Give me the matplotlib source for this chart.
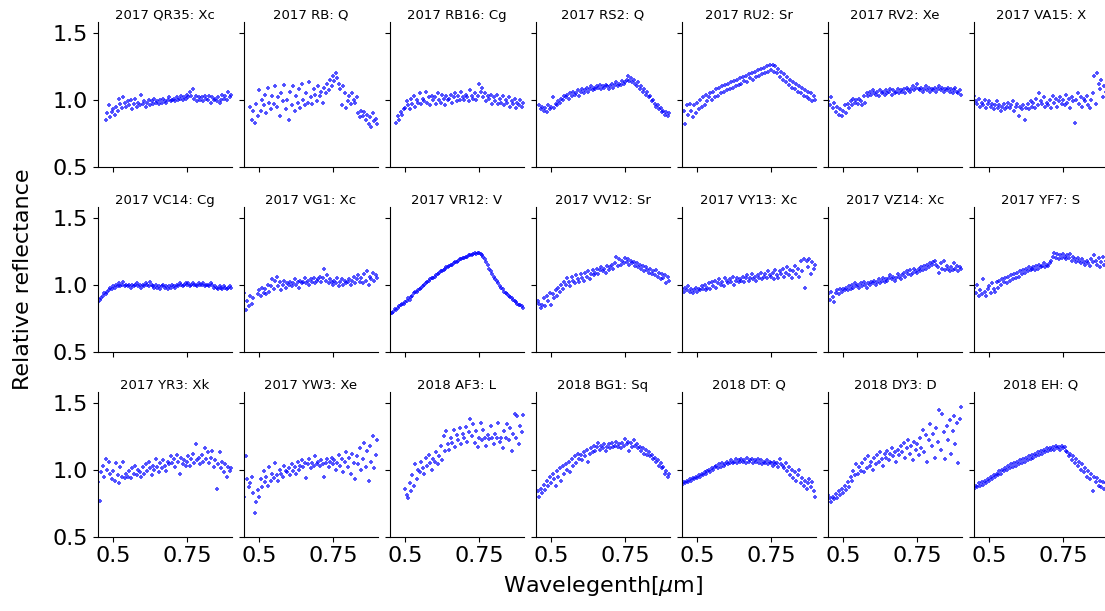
import numpy as np
import matplotlib
matplotlib.use('Agg')
import matplotlib.pyplot as plt

# wavelength grid [um]
wl = [0.450, 0.455, 0.460, 0.465, 0.470, 0.475, 0.480, 0.485, 0.490, 0.495,
      0.500, 0.505, 0.510, 0.515, 0.520, 0.525, 0.530, 0.535, 0.540, 0.545,
      0.550, 0.555, 0.560, 0.565, 0.570, 0.575, 0.580, 0.585, 0.590, 0.595,
      0.600, 0.605, 0.610, 0.615, 0.620, 0.625, 0.630, 0.635, 0.640, 0.645,
      0.650, 0.655, 0.660, 0.665, 0.670, 0.675, 0.680, 0.685, 0.690, 0.695,
      0.700, 0.705, 0.710, 0.715, 0.720, 0.725, 0.730, 0.735, 0.740, 0.745,
      0.750, 0.755, 0.760, 0.765, 0.770, 0.775, 0.780, 0.785, 0.790, 0.795,
      0.800, 0.805, 0.810, 0.815, 0.820, 0.825, 0.830, 0.835, 0.840, 0.845,
      0.850, 0.855, 0.860, 0.865, 0.870, 0.875, 0.880, 0.885, 0.890, 0.895,
      0.900]

nombres = ['2017 QR35: Xc', '2017 RB: Q', '2017 RB16: Cg', '2017 RS2: Q',
           '2017 RU2: Sr', '2017 RV2: Xe', '2017 VA15: X',
           '2017 VC14: Cg', '2017 VG1: Xc', '2017 VR12: V', '2017 VV12: Sr',
           '2017 VY13: Xc', '2017 VZ14: Xc', '2017 YF7: S',
           '2017 YR3: Xk', '2017 YW3: Xe', '2018 AF3: L', '2018 BG1: Sq',
           '2018 DT: Q', '2018 DY3: D', '2018 EH: Q']

N = None

qr35 = [N, N, N, N, N, 0.85, 0.90, 0.96, 0.87, 0.91,
        0.93, 0.89, 0.95, 0.92, 1.01, 0.97, 0.94, 1.02, 0.98, 0.95,
        0.99, 0.96, 1.00, 0.93, 0.97, 1.01, 0.95, 0.98, 0.96, 1.04,
        0.97, 0.99, 0.95, 0.98, 1.00, 0.96, 0.99, 0.97, 1.01, 0.98,
        0.99, 0.97, 1.00, 0.98, 1.01, 0.99, 0.98, 1.00, 1.02, 0.99,
        1.00, 1.01, 0.99, 1.02, 1.00, 1.01, 1.03, 1.00, 1.02, 1.01,
        1.04, 1.02, 1.06, 1.03, 1.08, 1.01, 1.03, 0.99, 1.02, 1.00,
        1.02, 0.99, 1.03, 1.01, 1.00, 1.03, 0.98, 1.02, 1.00, 1.01,
        0.99, 1.02, 0.98, 1.00, 1.04, 1.01, 1.03, 1.00, 1.06, 1.02,
        1.04]

rb = [N, N, N, N, 0.95, 0.85, 0.92, 0.83, 0.97, 0.88,
      1.07, 0.92, 1.00, 0.96, 1.04, 0.90, 1.09, 0.98, 0.93, 1.03,
      0.97, 1.10, 0.95, 1.02, 0.88, 1.05, 0.99, 1.11, 0.93, 1.00,
      0.85, 1.06, 0.96, 1.10, 0.92, 1.03, 0.98, 1.08, 0.94, 1.12,
      1.00, 0.96, 1.05, 0.98, 1.13, 1.02, 0.97, 1.08, 1.04, 0.99,
      1.10, 1.03, 1.06, 0.98, 1.09, 1.05, 1.12, 1.07, 1.15, 1.10,
      1.18, 1.14, 1.20, 1.16, 1.12, 1.08, 0.96, 1.10, 1.05, 0.94,
      0.99, 1.03, 0.97, 1.05, 1.00, 0.98, 1.02, 0.90, 0.87, 0.92,
      0.88, 0.91, 0.85, 0.89, 0.82, 0.87, 0.80, 0.90, 0.84, 0.86,
      0.82]

rb16 = [N, N, N, N, 0.83, 0.88, 0.85, 0.91, 0.89, 0.93,
        0.94, 0.99, 0.96, 0.93, 1.01, 0.97, 1.03, 0.95, 1.00, 0.98,
        1.05, 0.97, 1.01, 0.99, 1.06, 0.98, 1.02, 0.96, 1.03, 1.00,
        1.02, 0.97, 1.05, 1.00, 0.98, 1.04, 1.01, 0.96, 1.03, 1.00,
        1.01, 1.04, 0.98, 1.02, 1.05, 0.99, 1.03, 1.00, 1.06, 1.02,
        1.00, 1.04, 1.02, 0.99, 1.07, 1.03, 1.01, 1.05, 1.00, 1.03,
        1.12, 1.06, 1.09, 1.02, 1.05, 0.99, 1.03, 1.01, 1.04, 0.97,
        1.02, 0.99, 1.04, 0.97, 1.01, 0.98, 1.03, 0.96, 1.00, 0.98,
        1.02, 0.95, 0.99, 0.97, 1.01, 0.94, 0.98, 0.96, 1.00, 0.95,
        0.98]

rs2 = [N, N, 0.96, 0.93, 0.95, 0.92, 0.94, 0.91, 0.96, 0.93,
       0.95, 1.02, 0.94, 0.97, 0.96, 0.99, 0.98, 1.01, 1.00, 1.03,
       1.02, 1.04, 1.01, 1.05, 1.03, 1.06, 1.04, 1.05, 1.07, 1.03,
       1.06, 1.08, 1.05, 1.07, 1.09, 1.06, 1.08, 1.10, 1.07, 1.09,
       1.08, 1.10, 1.09, 1.11, 1.08, 1.10, 1.09, 1.11, 1.10, 1.08,
       1.10, 1.12, 1.09, 1.11, 1.13, 1.10, 1.12, 1.11, 1.14, 1.12,
       1.13, 1.15, 1.18, 1.14, 1.16, 1.13, 1.15, 1.12, 1.10, 1.13,
       1.08, 1.10, 1.06, 1.08, 1.04, 1.06, 1.02, 1.03, 0.99, 1.00,
       0.97, 0.95, 0.96, 0.93, 0.94, 0.91, 0.92, 0.89, 0.91, 0.88,
       0.90]

ru2 = [N, 0.92, 0.82, 0.96, 0.89, 0.97, 0.92, 0.87, 0.96, 0.90,
       0.98, 0.93, 1.00, 0.95, 1.02, 0.96, 1.04, 0.99, 1.02, 1.05,
       1.00, 1.06, 1.02, 1.08, 1.03, 1.09, 1.05, 1.10, 1.06, 1.11,
       1.07, 1.12, 1.08, 1.13, 1.09, 1.14, 1.10, 1.15, 1.11, 1.16,
       1.12, 1.17, 1.14, 1.18, 1.13, 1.19, 1.16, 1.20, 1.15, 1.21,
       1.17, 1.22, 1.18, 1.23, 1.19, 1.24, 1.20, 1.25, 1.21, 1.26,
       1.22, 1.26, 1.21, 1.25, 1.20, 1.23, 1.17, 1.21, 1.15, 1.19,
       1.13, 1.17, 1.11, 1.15, 1.09, 1.13, 1.08, 1.12, 1.06, 1.10,
       1.05, 1.09, 1.03, 1.07, 1.02, 1.06, 1.01, 1.05, 0.99, 1.03,
       1.00]

rv2 = [0.99, 0.96, 1.02, 0.94, 0.98, 0.91, 0.95, 0.89, 0.93, 0.88,
       0.92, 0.96, 0.90, 0.97, 0.94, 0.99, 0.96, 1.01, 0.98, 1.00,
       0.97, 1.01, 0.99, 0.96, 1.03, 0.98, 1.05, 1.03, 1.06, 1.04,
       1.07, 1.05, 1.04, 1.06, 1.03, 1.07, 1.05, 1.06, 1.04, 1.07,
       1.05, 1.06, 1.08, 1.04, 1.07, 1.05, 1.06, 1.08, 1.05, 1.07,
       1.06, 1.08, 1.05, 1.09, 1.07, 1.06, 1.08, 1.10, 1.07, 1.09,
       1.12, 1.08, 1.07, 1.09, 1.06, 1.08, 1.10, 1.07, 1.09, 1.06,
       1.08, 1.07, 1.09, 1.06, 1.08, 1.10, 1.07, 1.09, 1.06, 1.08,
       1.07, 1.09, 1.06, 1.08, 1.05, 1.07, 1.09, 1.06, 1.05, 1.07,
       1.04]

va15 = [1.03, 0.99, 0.97, 1.01, 0.95, 0.98, 0.96, 1.00, 0.94, 0.97,
        0.99, 0.95, 0.97, 0.93, 0.96, 0.99, 0.94, 0.96, 0.92, 0.95,
        0.97, 0.93, 0.95, 0.98, 0.94, 0.96, 0.99, 0.92, 0.95, 0.97,
        0.88, 0.95, 0.93, 0.96, 0.85, 0.94, 0.97, 0.93, 0.99, 0.95,
        0.98, 0.94, 1.01, 0.96, 1.05, 0.99, 0.97, 1.02, 0.95, 0.98,
        0.96, 1.00, 0.94, 1.03, 0.98, 1.01, 0.95, 0.99, 1.02, 0.97,
        1.00, 0.96, 1.04, 0.98, 1.01, 0.94, 1.02, 0.99, 0.83, 1.00,
        1.05, 0.97, 1.02, 0.95, 1.01, 0.99, 1.03, 0.96, 0.94, 1.00,
        1.05, 1.18, 0.97, 1.20, 1.12, 1.08, 1.15, 1.02, 1.10, 1.06,
        1.12]

vc14 = [0.87, 0.89, 0.90, 0.92, 0.94, 0.93, 0.95, 0.96, 0.98, 0.97,
        0.99, 0.98, 1.00, 0.99, 1.01, 0.99, 1.00, 1.02, 0.99, 1.00,
        0.99, 1.00, 0.98, 1.00, 0.99, 1.00, 1.01, 0.99, 1.00, 0.98,
        1.00, 0.99, 1.01, 1.00, 0.99, 1.02, 1.00, 0.99, 0.98, 1.00,
        0.98, 0.99, 0.97, 0.99, 1.00, 0.98, 0.99, 0.97, 0.99, 0.98,
        1.00, 0.99, 0.98, 1.00, 0.99, 1.01, 1.00, 0.99, 1.00, 1.01,
        1.00, 1.01, 0.99, 1.00, 1.01, 1.00, 1.00, 0.99, 1.01, 1.00,
        1.00, 1.01, 0.99, 1.00, 1.00, 0.99, 1.01, 1.00, 0.98, 0.99,
        0.98, 0.97, 0.99, 0.98, 0.97, 0.99, 0.98, 0.97, 0.98, 0.99,
        0.98]

vg1 = [0.94, 0.81, 0.88, 0.84, 0.92, 0.86, 0.90, N, N, 0.93,
       0.96, 0.92, 0.98, 0.94, 0.97, 0.93, 1.00, 0.95, 0.99, 1.04,
       0.97, 1.03, 1.06, 0.99, 1.02, 0.96, 1.00, 1.03, 0.98, 1.01,
       1.00, 1.02, 0.99, 1.01, 1.04, 1.00, 1.02, 0.98, 1.03, 1.01,
       1.02, 1.05, 1.01, 1.03, 1.00, 1.04, 1.02, 1.05, 1.01, 1.03,
       1.04, 1.06, 1.02, 1.05, 1.12, 1.03, 1.07, 1.01, 1.04, 1.02,
       1.00, 1.03, 1.01, 1.05, 0.99, 1.02, 1.04, 1.00, 1.03, 1.01,
       1.02, 1.04, 1.00, 1.03, 1.06, 1.01, 1.04, 1.07, 1.02, 1.05,
       1.01, 1.08, 1.03, 1.10, 1.00, 1.06, 1.04, 1.09, 1.03, 1.07,
       1.05]

vr12 = [0.78, 0.79, 0.80, 0.82, 0.81, 0.83, 0.84, 0.85, 0.86, 0.86,
        0.87, 0.88, 0.90, 0.89, 0.91, 0.92, 0.94, 0.95, 0.95, 0.96,
        0.97, 0.98, 0.99, 1.00, 1.01, 1.02, 1.03, 1.04, 1.05, 1.05,
        1.06, 1.07, 1.08, 1.09, 1.10, 1.10, 1.11, 1.12, 1.13, 1.13,
        1.14, 1.15, 1.15, 1.16, 1.17, 1.17, 1.18, 1.19, 1.19, 1.20,
        1.20, 1.21, 1.21, 1.22, 1.22, 1.22, 1.23, 1.24, 1.23, 1.24,
        1.24, 1.23, 1.22, 1.21, 1.19, 1.17, 1.15, 1.12, 1.10, 1.08,
        1.06, 1.04, 1.03, 1.01, 0.99, 0.98, 0.97, 0.95, 0.94, 0.93,
        0.92, 0.91, 0.90, 0.89, 0.88, 0.87, 0.86, 0.85, 0.85, 0.84,
        0.83]

vv12 = [N, 0.88, 0.86, 0.83, 0.85, 0.90, 0.84, 0.92, 0.88, 0.94,
        0.85, 0.93, 0.90, 0.96, 0.92, 0.98, 0.95, 1.00, 0.97, 1.02,
        1.00, 1.05, 1.02, 0.99, 1.06, 1.03, 1.01, 1.07, 1.04, 1.02,
        1.08, 1.05, 1.03, 1.09, 1.06, 1.10, 1.04, 1.08, 1.11, 1.07,
        1.09, 1.12, 1.08, 1.11, 1.13, 1.10, 1.12, 1.09, 1.14, 1.11,
        1.13, 1.15, 1.12, 1.16, 1.21, 1.14, 1.19, 1.15, 1.18, 1.16,
        1.20, 1.17, 1.19, 1.15, 1.18, 1.16, 1.17, 1.14, 1.16, 1.13,
        1.15, 1.12, 1.14, 1.10, 1.13, 1.11, 1.09, 1.12, 1.08, 1.10,
        1.07, 1.11, 1.06, 1.09, 1.04, 1.08, 1.05, 1.07, 1.01, 1.06,
        1.03]

vy13 = [0.97, 0.95, 0.98, 0.96, 0.99, 0.95, 0.97, 0.94, 0.96, 0.98,
        0.95, 0.97, 0.96, 0.99, 0.97, 1.00, 0.96, 0.98, 1.01, 0.97,
        1.02, 0.99, 1.03, 0.98, 1.01, 1.04, 1.00, 1.02, 0.99, 1.05,
        1.03, 1.01, 1.04, 1.02, 1.06, 1.00, 1.03, 1.05, 1.02, 1.04,
        1.03, 1.06, 1.02, 1.05, 1.07, 1.03, 1.05, 1.08, 1.04, 1.06,
        1.03, 1.07, 1.05, 1.09, 1.04, 1.06, 1.08, 1.05, 1.10, 1.07,
        1.06, 1.09, 1.04, 1.11, 1.07, 1.05, 1.10, 1.08, 1.12, 1.06,
        1.09, 1.13, 1.07, 1.11, 1.05, 1.10, 1.14, 1.08, 1.12, 1.06,
        1.18, 1.10, 1.19, 0.98, 1.18, 1.13, 1.19, 1.08, 1.17, 1.12,
        1.15]

vz14 = [0.93, 0.89, 0.95, 0.91, 0.87, 0.94, 0.96, 0.93, 0.97, 0.95,
        0.97, 0.96, 0.98, 0.96, 0.99, 0.97, 1.00, 0.98, 1.01, 0.99,
        1.00, 0.98, 1.01, 0.99, 1.02, 1.00, 0.98, 1.01, 1.00, 1.02,
        1.01, 1.03, 1.00, 1.02, 1.04, 1.01, 1.03, 1.05, 1.02, 1.04,
        1.03, 1.05, 1.07, 1.04, 1.06, 1.03, 1.05, 1.08, 1.06, 1.04,
        1.07, 1.09, 1.06, 1.10, 1.08, 1.11, 1.07, 1.09, 1.12, 1.10,
        1.09, 1.12, 1.10, 1.13, 1.11, 1.14, 1.12, 1.15, 1.13, 1.16,
        1.15, 1.17, 1.18, 1.15, 1.13, 1.09, 1.16, 1.12, 1.18, 1.11,
        1.14, 1.12, 1.10, 1.13, 1.11, 1.16, 1.12, 1.14, 1.10, 1.13,
        1.12]

yf7 = [0.98, 0.94, 1.00, 0.92, 0.96, 0.93, 1.04, 0.95, 0.92, 0.97,
       0.99, 0.94, 1.01, 0.97, 0.95, 1.02, 0.98, 1.03, 1.00, 1.04,
       1.02, 1.05, 1.01, 1.06, 1.03, 1.07, 1.04, 1.08, 1.05, 1.09,
       1.06, 1.10, 1.08, 1.11, 1.09, 1.12, 1.10, 1.13, 1.11, 1.12,
       1.13, 1.11, 1.14, 1.12, 1.15, 1.13, 1.14, 1.16, 1.13, 1.15,
       1.14, 1.16, 1.18, 1.21, 1.24, 1.20, 1.23, 1.19, 1.22, 1.20,
       1.23, 1.21, 1.19, 1.22, 1.20, 1.23, 1.18, 1.21, 1.19, 1.17,
       1.20, 1.18, 1.16, 1.19, 1.17, 1.15, 1.18, 1.16, 1.14, 1.19,
       1.17, 1.22, 1.18, 1.15, 1.20, 1.13, 1.17, 1.21, 1.15, 1.18,
       1.14]

yr3 = [0.91, 0.77, 0.98, 1.03, 0.95, 1.08, 1.00, 1.06, 0.97, 0.93,
       0.99, 0.92, 1.05, 0.96, 0.90, 1.02, 0.95, 1.06, 0.94, 0.97,
       0.95, 0.99, 0.94, 1.01, 0.97, 1.03, 0.96, 1.00, 0.98, 0.95,
       1.02, 0.97, 1.04, 0.99, 1.06, 1.01, 0.96, 1.03, 1.00, 1.08,
       1.02, 0.98, 1.05, 1.01, 1.07, 1.03, 0.99, 1.06, 1.04, 1.10,
       1.05, 1.08, 1.02, 1.11, 1.06, 0.97, 1.09, 1.04, 1.07, 1.03,
       1.06, 1.10, 1.03, 1.08, 1.12, 1.05, 1.19, 1.07, 1.09, 1.04,
       1.11, 1.06, 1.16, 1.08, 1.13, 1.05, 1.09, 1.14, 1.02, 1.07,
       0.86, 1.04, 1.13, 1.01, 1.06, 0.98, 1.04, 0.95, 1.02, 0.99,
       1.01]

yw3 = [0.80, 1.10, 0.93, 0.87, 0.90, 0.95, 0.83, 0.68, 0.76, 0.85,
       0.80, 0.93, 0.87, 0.99, 0.91, 0.95, 0.88, 1.02, 0.92, 0.97,
       0.94, 1.05, 0.96, 0.92, 1.00, 0.97, 0.95, 1.03, 0.99, 0.98,
       1.01, 0.96, 1.04, 0.99, 1.02, 0.97, 1.06, 1.00, 1.03, 1.07,
       1.02, 1.05, 0.94, 1.04, 1.08, 1.01, 1.05, 1.03, 1.10, 1.04,
       1.06, 1.03, 1.07, 1.04, 0.95, 1.05, 1.08, 1.02, 1.06, 1.09,
       1.04, 1.07, 1.00, 1.05, 1.11, 1.03, 1.08, 0.98, 1.06, 1.13,
       1.02, 1.09, 0.97, 1.12, 1.05, 0.93, 1.10, 1.04, 1.16, 1.00,
       1.08, 1.20, 1.02, 1.14, 0.92, 1.18, 1.06, 1.25, 1.01, 1.11,
       1.22]

af3 = [N, N, N, N, N, N, N, N, N, N,
       0.86, 0.81, 0.79, 0.90, 0.84, 0.96, 0.88, 1.04, 0.93, 1.00,
       0.98, 1.06, 1.01, 0.97, 1.09, 1.03, 1.11, 1.05, 1.00, 1.08,
       1.06, 1.13, 1.04, 1.10, 1.18, 1.07, 1.25, 1.14, 1.29, 1.19,
       1.15, 1.24, 1.20, 1.30, 1.17, 1.26, 1.22, 1.31, 1.19, 1.27,
       1.24, 1.32, 1.21, 1.28, 1.38, 1.25, 1.34, 1.20, 1.29, 1.17,
       1.24, 1.35, 1.22, 1.30, 1.24, 1.18, 1.26, 1.23, 1.33, 1.24,
       1.19, 1.27, 1.24, 1.35, 1.21, 1.24, 1.16, 1.29, 1.24, 1.34,
       1.22, 1.31, 1.14, 1.27, 1.42, 1.24, 1.40, 1.19, 1.33, 1.28,
       1.41]

bg1 = [N, 0.84, 0.80, 0.86, 0.83, 0.89, 0.85, 0.92, 0.88, 0.95,
       0.90, 0.97, 0.93, 0.88, 0.99, 0.95, 1.01, 0.92, 1.03, 0.97,
       1.04, 1.00, 1.06, 0.98, 1.08, 1.03, 1.10, 1.05, 1.12, 1.08,
       1.11, 1.07, 1.13, 1.10, 1.15, 1.06, 1.12, 1.16, 1.13, 1.18,
       1.14, 1.17, 1.20, 1.15, 1.18, 1.16, 1.19, 1.14, 1.17, 1.19,
       1.16, 1.20, 1.17, 1.18, 1.21, 1.17, 1.19, 1.16, 1.20, 1.18,
       1.23, 1.19, 1.21, 1.14, 1.20, 1.17, 1.22, 1.18, 1.19, 1.16,
       1.17, 1.14, 1.16, 1.12, 1.15, 1.11, 1.13, 1.10, 1.11, 1.08,
       1.09, 1.06, 1.07, 1.03, 1.05, 1.01, 1.02, 0.97, 0.99, 0.95,
       0.97]

dt = [0.89, 0.91, 0.90, 0.92, 0.91, 0.93, 0.92, 0.94, 0.93, 0.95,
      0.94, 0.96, 0.95, 0.97, 0.96, 0.98, 0.97, 0.99, 1.00, 0.98,
      1.01, 1.00, 1.02, 1.03, 1.01, 1.04, 1.02, 1.05, 1.03, 1.04,
      1.06, 1.04, 1.05, 1.07, 1.05, 1.06, 1.08, 1.05, 1.07, 1.06,
      1.08, 1.06, 1.07, 1.05, 1.09, 1.06, 1.07, 1.08, 1.05, 1.07,
      1.06, 1.08, 1.05, 1.07, 1.04, 1.06, 1.05, 1.07, 1.04, 1.06,
      1.05, 1.03, 1.06, 1.04, 1.05, 1.02, 1.08, 1.04, 1.03, 1.01,
      1.05, 0.99, 1.02, 0.96, 1.00, 0.94, 0.98, 0.92, 0.96, 1.00,
      0.90, 0.94, 0.88, 0.92, 0.86, 0.90, 0.93, 0.87, 0.91, 0.84,
      0.80]

dy3 = [0.81, 0.79, 0.76, 0.80, 0.78, 0.82, 0.79, 0.84, 0.81, 0.86,
       0.83, 0.88, 0.85, 0.91, 0.87, 0.95, 0.92, 0.99, 0.96, 1.04,
       0.97, 1.02, 0.99, 1.05, 0.98, 1.08, 1.01, 1.10, 1.03, 1.06,
       1.00, 1.09, 1.04, 1.11, 1.06, 1.13, 1.08, 1.03, 1.12, 1.09,
       1.14, 1.07, 1.12, 1.16, 1.10, 1.13, 1.06, 1.15, 1.11, 1.18,
       1.13, 1.20, 1.09, 1.16, 1.22, 1.12, 1.18, 1.07, 1.21, 1.15,
       1.19, 1.11, 1.24, 1.16, 1.30, 1.13, 1.26, 1.06, 1.22, 1.34,
       1.18, 1.27, 1.09, 1.31, 1.21, 1.45, 1.15, 1.42, 1.28, 1.08,
       1.33, 1.22, 1.37, 1.12, 1.29, 1.40, 1.19, 1.35, 1.05, 1.38,
       1.47]

eh = [0.86, 0.88, 0.87, 0.90, 0.88, 0.91, 0.89, 0.92, 0.90, 0.93,
      0.92, 0.95, 0.93, 0.96, 0.95, 0.97, 0.96, 0.99, 0.97, 1.00,
      0.99, 1.01, 1.00, 1.03, 1.01, 1.04, 1.02, 1.05, 1.03, 1.06,
      1.04, 1.07, 1.05, 1.08, 1.06, 1.09, 1.07, 1.10, 1.08, 1.11,
      1.09, 1.12, 1.10, 1.13, 1.11, 1.14, 1.12, 1.15, 1.13, 1.16,
      1.14, 1.16, 1.15, 1.17, 1.15, 1.18, 1.16, 1.17, 1.15, 1.18,
      1.16, 1.17, 1.14, 1.13, 1.10, 1.12, 1.07, 1.10, 1.05, 1.08,
      1.03, 1.06, 1.00, 1.04, 0.98, 1.01, 0.95, 0.99, 0.93, 0.97,
      0.84, 0.95, 0.91, 0.94, 0.88, 0.92, 0.87, 0.91, 0.86, 0.90,
      0.89]

espectros = [qr35, rb, rb16, rs2, ru2, rv2, va15,
             vc14, vg1, vr12, vv12, vy13, vz14, yf7,
             yr3, yw3, af3, bg1, dt, dy3, eh]

plt.rcParams['font.family'] = 'DejaVu Sans'

fig, axs = plt.subplots(3, 7, figsize=(11.05, 6.11), dpi=100,
                        sharex=True, sharey=True)
fig.subplots_adjust(left=0.0887, right=1.0027, top=0.964, bottom=0.1216,
                    wspace=0.09, hspace=0.278)

x = np.array(wl)
for k, ax in enumerate(axs.flat):
    y = np.array(espectros[k], dtype=float)
    ax.scatter(x, y, s=10, marker='+', c='b', alpha=0.7, linewidths=1.3)
    ax.set_title(nombres[k], fontsize=9.5, pad=2)
    ax.spines['top'].set_visible(False)
    ax.spines['right'].set_visible(False)
    ax.tick_params(labelsize=16)

axs[0, 0].set_xlim(0.449, 0.902)
axs[0, 0].set_ylim(0.5, 1.582)
axs[0, 0].set_xticks([0.5, 0.75])
axs[0, 0].set_xticklabels(['0.5', '0.75'])
axs[0, 0].set_yticks([0.5, 1.0, 1.5])

fig.text(0.5457, 0.022, 'Wavelegenth[$\\mu$m]', ha='center', va='bottom', fontsize=16)
fig.text(0.012, 0.543, 'Relative reflectance', ha='left', va='center',
         rotation=90, fontsize=16)

plt.savefig('out.png', dpi=100)
